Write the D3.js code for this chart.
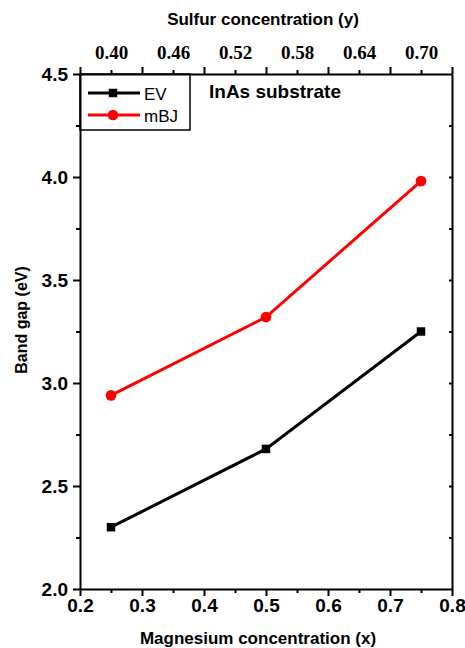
<!DOCTYPE html>
<html>
<head>
<meta charset="utf-8">
<script src="https://cdn.jsdelivr.net/npm/d3@7"></script>
<style>
  body { margin: 0; background: #fff; }
  svg { display: block; font-family: Arial, "Liberation Sans", sans-serif; }
  .axis path, .axis line { stroke: #000; stroke-width: 2; }
  .axis text { font-weight: bold; font-size: 19px; fill: #000; font-family: Arial, "Liberation Sans", sans-serif; }
  .top-axis text { font-family: "Times New Roman", "Liberation Serif", serif; font-size: 19px; }
</style>
</head>
<body>
<div id="chart"></div>
<script>
// Data
const magnesium = [0.25, 0.5, 0.75];
const evValues = [2.30, 2.68, 3.25];
const mbjValues = [2.94, 3.32, 3.98];
const sulfurLabels = ['0.40', '0.46', '0.52', '0.58', '0.64', '0.70'];
const sulfurTickPos = [0.25, 0.35, 0.45, 0.55, 0.65, 0.75];
const seriesNames = ['EV', 'mBJ'];

const WIDTH = 465, HEIGHT = 648;
const MARGIN = { left: 80, right: 13, top: 74, bottom: 59 };
const CHART_WIDTH = WIDTH - MARGIN.left - MARGIN.right;
const CHART_HEIGHT = HEIGHT - MARGIN.top - MARGIN.bottom;

const svg = d3.select('#chart').append('svg')
    .attr('width', WIDTH)
    .attr('height', HEIGHT);

const g = svg.append('g')
    .attr('transform', `translate(${MARGIN.left}, ${MARGIN.top})`);

const xScale = d3.scaleLinear().domain([0.2, 0.8]).range([0, CHART_WIDTH]);
const yScale = d3.scaleLinear().domain([2.0, 4.5]).range([CHART_HEIGHT, 0]);

const fmt1 = d3.format('.1f');

// bottom axis: minor then major
g.append('g')
    .attr('class', 'axis')
    .attr('transform', `translate(0, ${CHART_HEIGHT})`)
    .call(d3.axisBottom(xScale).tickValues(d3.range(0.25, 0.8, 0.1)).tickSize(4).tickFormat(''))
    .select('.domain').remove();
g.append('g')
    .attr('class', 'axis')
    .attr('transform', `translate(0, ${CHART_HEIGHT})`)
    .call(d3.axisBottom(xScale).tickValues(d3.range(0.2, 0.81, 0.1)).tickSize(7).tickSizeOuter(0).tickPadding(3).tickFormat(fmt1));

// left axis
g.append('g')
    .attr('class', 'axis')
    .call(d3.axisLeft(yScale).tickValues(d3.range(2.25, 4.5, 0.5)).tickSize(4).tickFormat(''))
    .select('.domain').remove();
g.append('g')
    .attr('class', 'axis')
    .call(d3.axisLeft(yScale).tickValues(d3.range(2.0, 4.51, 0.5)).tickSize(7).tickSizeOuter(0).tickPadding(5).tickFormat(fmt1));

// right axis (ticks inward)
g.append('g')
    .attr('class', 'axis')
    .attr('transform', `translate(${CHART_WIDTH}, 0)`)
    .call(d3.axisLeft(yScale).tickValues(d3.range(2.25, 4.5, 0.25)).tickSize(3).tickSizeOuter(0).tickFormat(''));

// top axis: sulfur labels sit on the minor ticks
g.append('g')
    .attr('class', 'axis')
    .call(d3.axisTop(xScale).tickValues(d3.range(0.2, 0.81, 0.1)).tickSize(7).tickSizeOuter(0).tickFormat(''));
g.append('g')
    .attr('class', 'axis top-axis')
    .call(d3.axisTop(xScale).tickValues(sulfurTickPos).tickSize(4).tickPadding(11)
        .tickFormat((d, i) => sulfurLabels[i]))
    .select('.domain').remove();

// axis titles
svg.append('text')
    .attr('x', 258)
    .attr('y', 644)
    .attr('text-anchor', 'middle')
    .style('font-weight', 'bold').style('font-size', '17px')
    .text('Magnesium concentration (x)');

svg.append('text')
    .attr('x', 263)
    .attr('y', 25)
    .attr('text-anchor', 'middle')
    .style('font-weight', 'bold').style('font-size', '17px')
    .text('Sulfur concentration (y)');

svg.append('text')
    .attr('transform', `translate(27, 320) rotate(-90)`)
    .attr('text-anchor', 'middle')
    .style('font-weight', 'bold').style('font-size', '16px')
    .text('Band gap (eV)');

// series
const series = [
    { name: seriesNames[0], values: evValues, color: '#000', marker: 'square' },
    { name: seriesNames[1], values: mbjValues, color: '#ff0000', marker: 'circle' }
];

const line = d3.line()
    .x((d, i) => xScale(magnesium[i]))
    .y(d => yScale(d));

const symbolFor = s => d3.symbol()
    .type(s.marker === 'square' ? d3.symbolSquare : d3.symbolCircle)
    .size(s.marker === 'square' ? 72 : 90);

series.forEach(s => {
    g.append('path')
        .datum(s.values)
        .attr('fill', 'none')
        .attr('stroke', s.color)
        .attr('stroke-width', 3)
        .attr('d', line);

    g.selectAll(null)
        .data(s.values)
        .enter()
        .append('path')
        .attr('d', symbolFor(s))
        .attr('fill', s.color)
        .attr('transform', (d, i) => `translate(${xScale(magnesium[i])}, ${yScale(d)})`);
});

// legend
const legend = g.append('g');
legend.append('rect')
    .attr('x', 0).attr('y', 0)
    .attr('width', 110).attr('height', 56)
    .attr('fill', 'none')
    .attr('stroke', '#000')
    .attr('stroke-width', 1.5);

series.forEach((s, i) => {
    const ly = 19 + i * 22;
    legend.append('line')
        .attr('x1', 8).attr('x2', 60)
        .attr('y1', ly).attr('y2', ly)
        .attr('stroke', s.color).attr('stroke-width', 3);
    legend.append('path')
        .attr('d', symbolFor(s))
        .attr('fill', s.color)
        .attr('transform', `translate(33, ${ly})`);
    legend.append('text')
        .attr('x', 64).attr('y', ly + 7)
        .style('font-size', '17px')
        .text(s.name);
});

g.append('text')
    .attr('x', 129).attr('y', 24)
    .style('font-weight', 'bold').style('font-size', '19px')
    .text('InAs substrate');
</script>
</body>
</html>
